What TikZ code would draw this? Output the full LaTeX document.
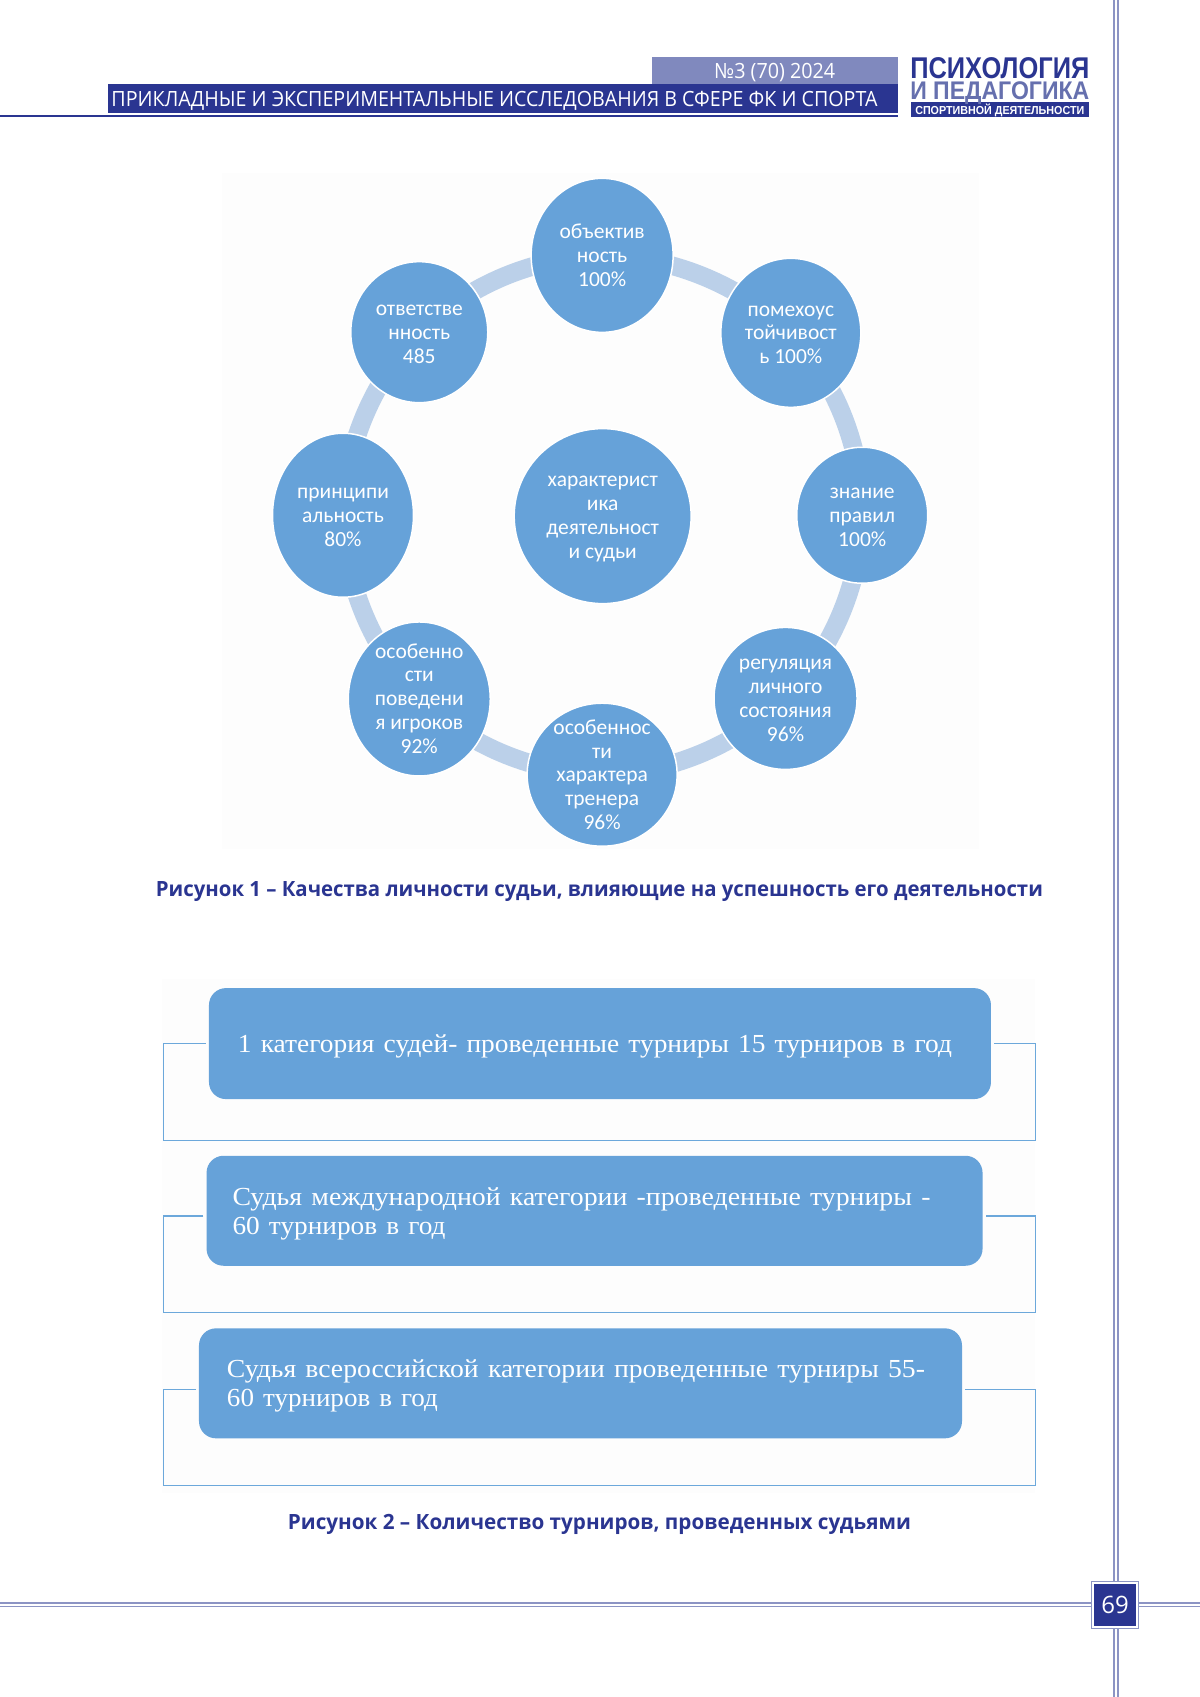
\documentclass[tikz,border=0pt]{standalone}
\usepackage{graphicx}
\usepackage{fontspec}
\setmainfont{Liberation Serif}
\newfontfamily\carl{Carlito}
\newfontfamily\opens{Open Sans}
\newfontfamily\lib{Liberation Sans}
\usetikzlibrary{shapes.geometric,calc}
\pgfdeclarelayer{under}
\pgfsetlayers{under,main}
\definecolor{navy}{HTML}{2A3591}
\definecolor{lilac}{HTML}{8089BE}
\definecolor{lilacdark}{HTML}{6670AE}
\definecolor{rule}{HTML}{8C94C4}
\definecolor{orbblue}{HTML}{66A2D9}
\definecolor{ringblue}{HTML}{BBD0E9}
\definecolor{framec}{HTML}{6CA8DB}
\definecolor{paper}{HTML}{FDFDFD}
\newcommand{\fitw}[2]{\resizebox{#1pt}{\height}{#2}}
\newcommand{\fitb}[2]{\raisebox{-3pt}[\height][\depth]{\fitw{#1}{#2}}}
\tikzset{
  orb/.style={ellipse,fill=orbblue,draw=white,line width=1.5pt,inner sep=0pt},
  orbtext/.style={align=center,text=white,font=\carl\fontsize{21.5}{23.8}\selectfont,inner sep=0pt,yshift=-2pt},
  ringline/.style={ringblue,line width=18.5pt,bend left=21,looseness=.885},
  flowbox/.style={rounded corners=17pt,fill=orbblue,inner sep=0pt,anchor=center,text=white,align=left,font=\fontsize{26}{29}\selectfont},
  frameline/.style={framec,line width=1.5pt,line join=miter,shorten <=3pt,shorten >=3pt},
  barbox/.style={inner sep=0pt,minimum height=0pt},
  captionlab/.style={inner sep=0pt,text=navy,font=\opens\bfseries\fontsize{21}{25}\selectfont},
}
\begin{document}
\begin{tikzpicture}[x=1.082pt,y=-1.082pt]
\useasboundingbox (0,0) rectangle (1109.06,1568.4);
\begin{pgfonlayer}{under}
  \fill[paper] (205,160) rectangle (905,785);
  \fill[paper] (150,905) rectangle (957,1380);
\end{pgfonlayer}

% page rules
\coordinate (vtop) at (1031.4,0);
\coordinate (vbot) at (1031.4,1568.4);
\coordinate (hleft) at (0,1483);
\coordinate (hright) at (1109.06,1483);
\draw[rule,line width=5.5pt] (vtop) -- (vbot);
\draw[white,line width=2.4pt] (vtop) -- (vbot);
\draw[rule,line width=5.2pt] (hleft) -- (hright);
\draw[white,line width=2.2pt] (hleft) -- (hright);
\node[draw=rule,fill=white,line width=1pt,minimum size=47pt,inner sep=0pt] (pagefr) at (1030.5,1483) {};
\node[fill=navy,minimum size=42pt,inner sep=0pt,text=white,font=\opens\fontsize{24}{28}\selectfont] (pageno) at (pagefr) {69};

% header
\fill[lilac] (603,53) rectangle (830,78);
\fill[navy] (100,78) rectangle (830,104);
\draw[navy,line width=2.4pt] (0,107) -- (830,107);
\node[barbox,text=white,font=\opens\fontsize{21}{25}\selectfont] (issue) at (716,67.5) {\fitw{121}{№3 (70) 2024}};
\node[barbox,text=white,font=\opens\fontsize{21}{25}\selectfont] (strip) at (457,93) {\fitw{766}{ПРИКЛАДНЫЕ И ЭКСПЕРИМЕНТАЛЬНЫЕ ИССЛЕДОВАНИЯ В СФЕРЕ ФК И СПОРТА}};
\fill[navy] (842,94.5) rectangle (1006,107.9);
\node[barbox,anchor=base,text=navy,font=\lib\bfseries\fontsize{30}{30}\selectfont] (logoa) at (924,72.2) {\fitw{179}{ПСИХОЛОГИЯ}};
\node[barbox,anchor=base,text=lilacdark,font=\lib\bfseries\fontsize{25.5}{26}\selectfont] (logob) at (924,92.4) {\fitw{179}{И ПЕДАГОГИКА}};
\node[barbox,anchor=base,text=white,font=\lib\bfseries\fontsize{11.6}{12}\selectfont] (logoc) at (924,105.4) {\fitw{169}{СПОРТИВНОЙ ДЕЯТЕЛЬНОСТИ}};

% figure 1
\node[orb,minimum width=142pt,minimum height=154pt,label={[orbtext,yshift=2pt]center:объектив\\ность\\100\%}] (a) at (556.5,236) {};
\node[orb,minimum width=140pt,minimum height=149pt,label={[orbtext]center:помехоус\\тойчивост\\ь 100\%}] (b) at (730.9,307.6) {};
\node[orb,minimum width=131pt,minimum height=136pt,label={[orbtext]center:знание\\правил\\100\%}] (c) at (796.9,476.2) {};
\node[orb,minimum width=143pt,minimum height=142pt,label={[orbtext]center:регуляция\\личного\\состояния\\96\%}] (d) at (726,645.5) {};
\node[orb,minimum width=150pt,minimum height=143pt,label={[orbtext,yshift=2pt]center:особеннос\\ти\\характера\\тренера\\96\%}] (e) at (556.5,716) {};
\node[orb,minimum width=142pt,minimum height=154pt,label={[orbtext,yshift=2.5pt]center:особенно\\сти\\поведени\\я игроков\\92\%}] (f) at (387.5,646) {};
\node[orb,minimum width=141pt,minimum height=164pt,label={[orbtext]center:принципи\\альность\\80\%}] (g) at (317,476.2) {};
\node[orb,minimum width=137pt,minimum height=141pt,label={[orbtext]center:ответстве\\нность\\485}] (h) at (387.5,307) {};
\node[orb,minimum width=177pt,minimum height=175pt,label={[orbtext,yshift=-1pt]center:характерист\\ика\\деятельност\\и судьи}] (m) at (557,477) {};
\begin{pgfonlayer}{under}
  \draw[ringline] (a.center) to (b.center);
  \draw[ringline] (b.center) to (c.center);
  \draw[ringline] (c.center) to (d.center);
  \draw[ringline] (d.center) to (e.center);
  \draw[ringline] (e.center) to (f.center);
  \draw[ringline] (f.center) to (g.center);
  \draw[ringline] (g.center) to (h.center);
  \draw[ringline] (h.center) to (a.center);
\end{pgfonlayer}
\node[captionlab] (cap1) at (554,824) {\fitw{887}{Рисунок 1 – Качества личности судьи, влияющие на успешность его деятельности}};

% figure 2
\node[flowbox,minimum width=782pt,minimum height=111pt,text width=724pt] (p) at (554.5,964.5) {\fitb{714}{1 категория судей- проведенные турниры 15 турниров в год}};
\node[flowbox,minimum width=776pt,minimum height=110pt,text width=724pt] (q) at (549.5,1119) {\fitb{698}{Судья международной категории -проведенные турниры -}\\\fitb{213}{60 турниров в год}};
\node[flowbox,minimum width=763pt,minimum height=110pt,text width=707pt] (r) at (536.5,1278.5) {\fitb{698}{Судья всероссийской категории проведенные турниры 55-}\\\fitb{211}{60 турниров в год}};
\coordinate (pl) at (151,964.5); \coordinate (pb) at (151,1054); \coordinate (pc) at (957,1054); \coordinate (pr) at (957,964.5);
\coordinate (ql) at (151,1124); \coordinate (qb) at (151,1213); \coordinate (qc) at (957,1213); \coordinate (qr) at (957,1124);
\coordinate (rl) at (151,1284); \coordinate (rb) at (151,1373); \coordinate (rc) at (957,1373); \coordinate (rr) at (957,1284);
\begin{pgfonlayer}{under}
  \draw[frameline] (p.west) -- (pl) -- (pb) -- (pc) -- (pr) -- (p.east);
  \draw[frameline] (q.west |- ql) -- (ql) -- (qb) -- (qc) -- (qr) -- (q.east |- qr);
  \draw[frameline] (r.west |- rl) -- (rl) -- (rb) -- (rc) -- (rr) -- (r.east |- rr);
\end{pgfonlayer}
\node[captionlab] (cap2) at (554,1409) {\fitw{623}{Рисунок 2 – Количество турниров, проведенных судьями}};
\end{tikzpicture}
\end{document}
